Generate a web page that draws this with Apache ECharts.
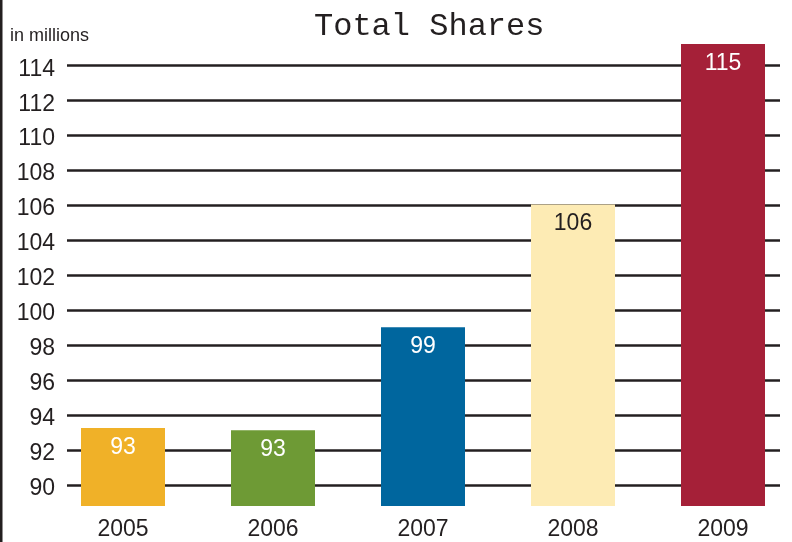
<!DOCTYPE html>
<html>
<head>
<meta charset="utf-8">
<script src="https://cdn.jsdelivr.net/npm/echarts@6/dist/echarts.min.js"></script>
<style>
  html, body { margin: 0; padding: 0; background: #fff; }
  #chart { width: 792px; height: 542px; }
</style>
</head>
<body>
<div id="chart"></div>
<script>
// data
const years = ['2005', '2006', '2007', '2008', '2009']
const shares = [93.26, 93.14, 99.03, 106.06, 115.24]

// styles
const barColors = ['#f0b128', '#6e9a35', '#00669e', '#fdebb4', '#a52038']
const labelColors = ['#fff', '#fff', '#fff', '#231f20', '#fff']
const sans = 'Liberation Sans, Arial, sans-serif'
const ink = '#231f20'

const chart = echarts.init(document.getElementById('chart'))

chart.setOption({
  animation: false,
  title: {
    text: 'Total Shares',
    left: 309,
    top: 6,
    textStyle: { fontFamily: 'Liberation Mono, monospace', fontSize: 32, fontWeight: 'normal', color: ink },
  },
  graphic: [
    // left frame line
    { type: 'rect', left: 0, top: 0, shape: { x: 0, y: 0, width: 2.5, height: 542 }, style: { fill: ink } },
    { type: 'text', left: 10, top: 27, style: { text: 'in millions', font: '18px ' + sans, fill: ink } },
  ],
  grid: [
    // gridlines + y labels
    { left: 67, right: 12, top: 30.8, height: 489.2 },
    // bars: category centres at the grid ends (boundaryGap false)
    { left: 123, width: 600, top: 43, height: 463 },
  ],
  xAxis: [
    { gridIndex: 0, type: 'category', data: years, show: false },
    {
      gridIndex: 1,
      type: 'category',
      data: years,
      boundaryGap: false,
      axisLine: { show: false },
      axisTick: { show: false },
      axisLabel: { fontFamily: sans, fontSize: 23, color: ink, margin: 12 },
    },
  ],
  yAxis: [
    {
      gridIndex: 0,
      type: 'value',
      min: 88,
      max: 116,
      interval: 2,
      axisLine: { show: false },
      axisTick: { show: false },
      axisLabel: {
        color: ink,
        margin: 12,
        showMinLabel: false,
        showMaxLabel: false,
        // labels sit a little below their lines in the original
        formatter: (v) => '{a|' + v + '}',
        rich: { a: { fontFamily: sans, fontSize: 23, color: ink, padding: [7, 0, 0, 0] } },
      },
      splitLine: { show: true, showMinLine: false, showMaxLine: false, lineStyle: { color: ink, width: 2.5 } },
    },
    { gridIndex: 1, type: 'value', min: 88.8, max: 115.3, show: false, splitLine: { show: false } },
  ],
  series: [
    {
      type: 'bar',
      xAxisIndex: 1,
      yAxisIndex: 1,
      barWidth: 84,
      z: 5,
      data: shares.map((v, i) => ({
        value: v,
        itemStyle: { color: barColors[i] },
        label: { color: labelColors[i] },
      })),
      label: {
        show: true,
        position: 'insideTop',
        distance: 8,
        fontFamily: sans,
        fontSize: 23,
        formatter: (p) => Math.round(p.value),
      },
    },
  ],
})
</script>
</body>
</html>
